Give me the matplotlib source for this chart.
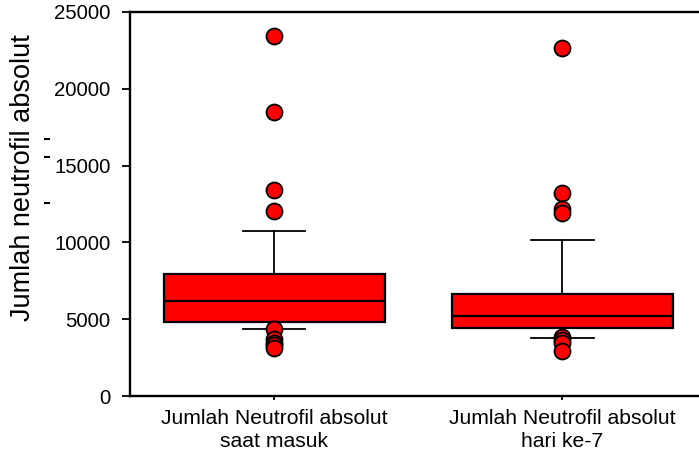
import matplotlib
matplotlib.use("Agg")
import matplotlib.pyplot as plt
from matplotlib.lines import Line2D

plt.rcParams['font.family'] = ['Liberation Sans', 'DejaVu Sans']

categories = ["Jumlah Neutrofil absolut\nsaat masuk", "Jumlah Neutrofil absolut\nhari ke-7"]
q1 = [4800, 4450]
median = [6170, 5230]
q3 = [7940, 6640]
whisker_low = [4330, 3780]
whisker_high = [10720, 10160]
fliers = [
    [23460, 18510, 13430, 12020, 4350, 3700, 3480, 3300, 3150],
    [22680, 13190, 12150, 11890, 3820, 3650, 3430, 2950],
]
y_ticks = [0, 5000, 10000, 15000, 20000, 25000]

stats = []
for i, label in enumerate(categories):
    stats.append(dict(label=label, q1=q1[i], med=median[i], q3=q3[i],
                      whislo=whisker_low[i], whishi=whisker_high[i],
                      fliers=fliers[i]))

fig = plt.figure(figsize=(6.99, 4.61), dpi=100)
ax = fig.add_axes([130 / 699, 65 / 461, 576.5 / 699, 384 / 461])

ax.bxp(stats, positions=[1, 2], widths=0.767, patch_artist=True,
       boxprops=dict(facecolor='#ff0000', edgecolor='black', linewidth=1.6),
       medianprops=dict(color='black', linewidth=1.6),
       whiskerprops=dict(color='black', linewidth=1.3),
       capprops=dict(color='black', linewidth=1.3),
       capwidths=0.217,
       flierprops=dict(marker='o', markerfacecolor='#ff0000',
                       markeredgecolor='black', markersize=11.5,
                       markeredgewidth=1.3))

ax.set_xlim(0.5, 2.5)
ax.set_ylim(0, 25000)
ax.set_yticks(y_ticks)
ax.set_yticklabels([str(t) for t in y_ticks])

for side in ['left', 'bottom', 'top']:
    ax.spines[side].set_linewidth(1.7)
ax.spines['right'].set_visible(False)

ax.tick_params(axis='y', direction='out', length=6, width=1.3, pad=8, labelsize=14.7)
ax.tick_params(axis='x', direction='out', length=3, width=1.3, pad=6, labelsize=15.2)
for lbl in ax.get_xticklabels():
    lbl.set_linespacing(1.32)

fig.text(23 / 699, 1 - 177.5 / 461, "Jumlah neutrofil absolut", rotation=90,
         ha='center', va='center', fontsize=19.5)

# small stray dashes beside the axis title
for yp in [139, 157, 203]:
    fig.add_artist(Line2D([45 / 699, 49 / 699], [1 - yp / 461, 1 - yp / 461],
                          color='black', linewidth=1.5, transform=fig.transFigure))

fig.savefig("out.png", dpi=100)
